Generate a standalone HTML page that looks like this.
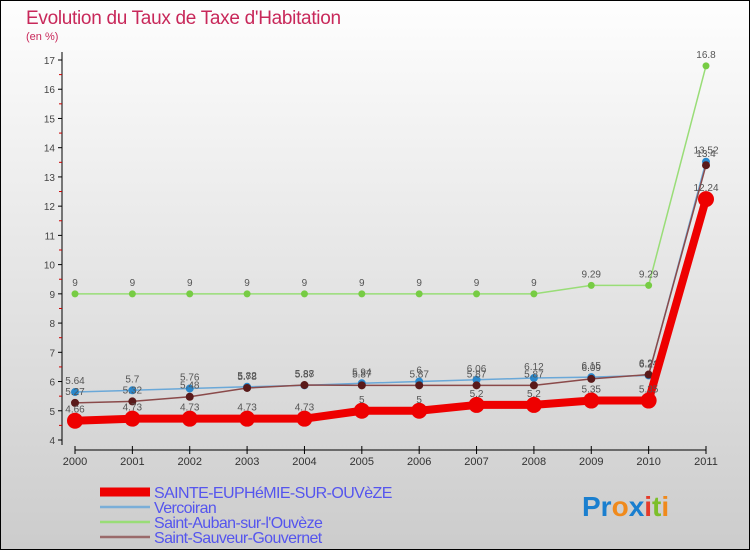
<!DOCTYPE html>
<html><head><meta charset="utf-8"><style>
body{margin:0;width:750px;height:550px;overflow:hidden;font-family:"Liberation Sans",sans-serif}
svg{display:block}
</style></head><body>
<svg id="chart" width="750" height="550">
<defs><linearGradient id="bg" x1="0" y1="0" x2="0" y2="1"><stop offset="0" stop-color="#fefefe"/><stop offset="1" stop-color="#cccccc"/></linearGradient></defs>
<rect x="0.5" y="0.5" width="749" height="549" fill="url(#bg)" stroke="#000"/>
<text x="26" y="24" font-size="19" fill="#c8285a" letter-spacing="-0.3">Evolution du Taux de Taxe d'Habitation</text>
<text x="26" y="40" font-size="11" fill="#c8285a">(en %)</text>
<g id="axes"></g>
<g id="series"></g>
<g id="legend" font-size="16" fill="#5555ee" letter-spacing="-0.6"></g>
<text x="582" y="516" font-size="28" font-weight="bold"><tspan fill="#1a7fcf">Pr</tspan><tspan fill="#f08a1c">o</tspan><tspan fill="#1a7fcf">x</tspan><tspan fill="#e53a2a">i</tspan><tspan fill="#7cbf2a">t</tspan><tspan fill="#f08a1c">i</tspan></text>
</svg>
<script>
const years=["2000","2001","2002","2003","2004","2005","2006","2007","2008","2009","2010","2011"];
const yTicks=[4,5,6,7,8,9,10,11,12,13,14,15,16,17];
const seriesNames=["SAINTE-EUPHéMIE-SUR-OUVèZE","Vercoiran","Saint-Auban-sur-l'Ouvèze","Saint-Sauveur-Gouvernet"];
const sainte=[4.66,4.73,4.73,4.73,4.73,5,5,5.2,5.2,5.35,5.35,12.24];
const vercoiran=[5.64,5.7,5.76,5.82,5.87,5.94,6,6.06,6.12,6.15,6.21,13.52];
const auban=[9,9,9,9,9,9,9,9,9,9.29,9.29,16.8];
const sauveur=[5.27,5.32,5.48,5.78,5.88,5.87,5.87,5.87,5.87,6.09,6.24,13.4];
const NS="http://www.w3.org/2000/svg";
const x=i=>75+i*(706-75)/(years.length-1);
const y=v=>440-(v-4)*(440-60)/13;
function mk(tag,attrs,parent){const e=document.createElementNS(NS,tag);for(const k in attrs)e.setAttribute(k,attrs[k]);parent.appendChild(e);return e;}
const ax=document.getElementById('axes');
let l=mk('line',{x1:62,y1:52,x2:62,y2:445,stroke:'#000'},ax);


l=mk('line',{x1:75,y1:450,x2:706,y2:450,stroke:'#000'},ax);


yTicks.forEach(v=>{
  mk('line',{x1:58,x2:62,y1:y(v),y2:y(v),stroke:'#000'},ax);
  if(v<17)mk('line',{x1:59,x2:62,y1:y(v+0.5),y2:y(v+0.5),stroke:'#c00'},ax);
  const t=mk('text',{x:55,y:y(v)+4,'font-size':10,'text-anchor':'end',fill:'#444'},ax);t.textContent=v;
  
  
});
years.forEach((yr,i)=>{
  mk('line',{x1:x(i),x2:x(i),y1:446,y2:454,stroke:'#000'},ax);
  const t=mk('text',{x:x(i),y:465,'font-size':11,'text-anchor':'middle',fill:'#333'},ax);t.textContent=yr;
  
  
});
const sg=document.getElementById('series');
const defs=[[auban,'#99dd77','#77cc44',1.5,3.5,'saint-auban'],[vercoiran,'#6aa8d8','#2a88cc',1.5,4,'vercoiran'],[sauveur,'#8a4a4a','#5a1a1a',1.5,4,'saint-sauveur'],[sainte,'#ee0000','#ee0000',8,8,'sainte-euphemie']];
defs.forEach(([d,lc,pc,w,r,name])=>{
  const g=mk('g',{},sg);
  
  
  const p=mk('polyline',{points:d.map((v,i)=>x(i)+','+y(v)).join(' '),fill:'none',stroke:lc,'stroke-width':w,'stroke-linejoin':'round'},g);
  
  
  d.forEach((v,i)=>{
    const c=mk('circle',{cx:x(i),cy:y(v),r:r,fill:pc},g);
    
    
    const t=mk('text',{x:x(i),y:y(v)-8,'font-size':10,'text-anchor':'middle',fill:'#555'},g);
    t.textContent=v;
    
    
  });
});
const lg=document.getElementById('legend');
const lc=['#ee0000','#7aaed8','#99dd77','#9a6a6a'];const lw=[9,2.5,2.5,2.5];
seriesNames.forEach((n,i)=>{
  const yy=492+i*15;
  const g=mk('g',{},lg);
  
  
  mk('line',{x1:100,x2:150,y1:yy,y2:yy,stroke:lc[i],'stroke-width':lw[i]},g);
  const t=mk('text',{x:154,y:yy+6},g);t.textContent=n;
});
</script>
</body></html>
